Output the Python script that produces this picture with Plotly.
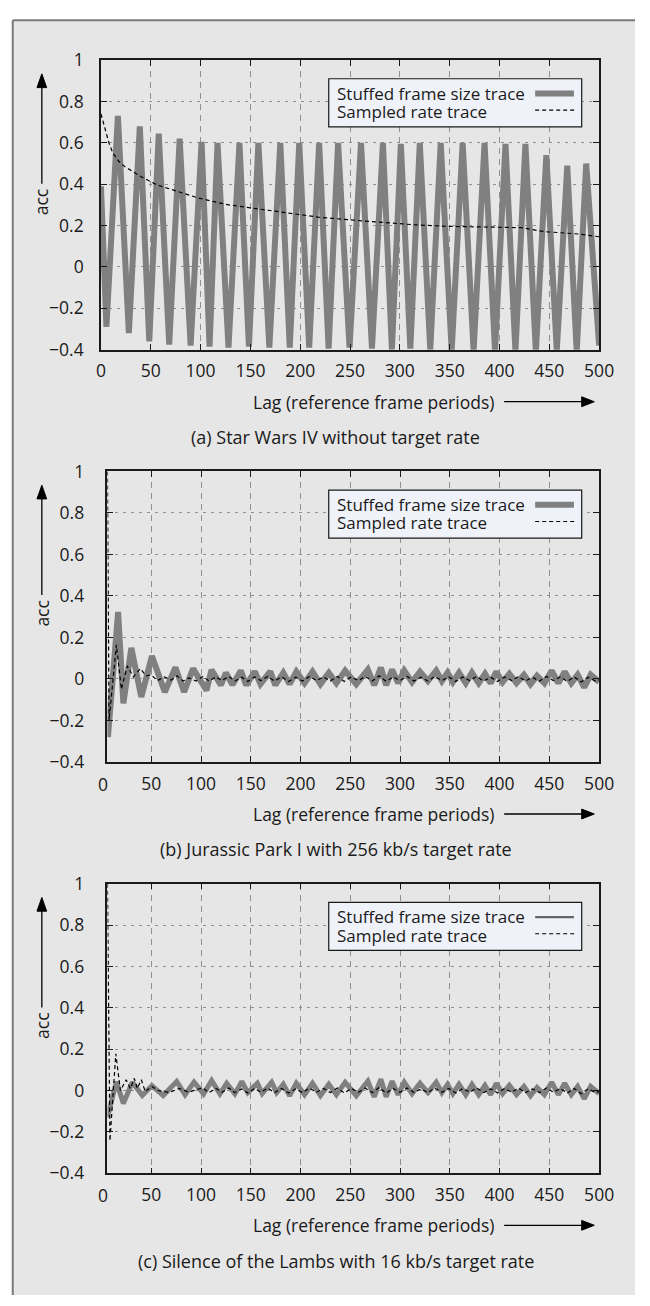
import plotly.graph_objects as go

W, H = 650, 1306


def px(x):
    return x / W


def py(y):
    return 1 - y / H


# ---------------- data ----------------
# (a) Star Wars IV without target rate
lag_a_frame = [0, 5.5, 17, 28, 39, 48.5, 58, 68.5, 79, 90, 101, 109, 117, 128, 139, 148.5, 158, 169, 180, 189.5,
               199, 209, 219, 228.5, 238, 249.5, 261, 272, 283, 292, 301, 310.5, 320, 330.5, 341, 352, 363, 374, 385, 395.5,
               406, 416, 426, 436.5, 447, 457.5, 468, 477.5, 487, 500]
acc_a_frame = [0.39, -0.29, 0.73, -0.32, 0.68, -0.36, 0.645, -0.375, 0.62, -0.38, 0.605, -0.385, 0.6, -0.39, 0.6, -0.385,
               0.6, -0.39, 0.6, -0.39, 0.6, -0.39, 0.6, -0.395, 0.6, -0.39, 0.6, -0.395, 0.6, -0.4, 0.595, -0.395, 0.6, -0.4,
               0.6, -0.405, 0.6, -0.405, 0.6, -0.405, 0.595, -0.41, 0.595, -0.41, 0.54, -0.405, 0.49, -0.41, 0.5, -0.38]
lag_a_rate = [0, 4, 8, 12, 18, 24, 32, 40, 56, 76, 98, 127, 160, 192, 218, 264, 285, 317, 350, 400, 422, 438, 448, 480, 500]
acc_a_rate = [0.74, 0.67, 0.6, 0.55, 0.51, 0.485, 0.46, 0.437, 0.397, 0.365, 0.333, 0.301, 0.278, 0.257, 0.241, 0.222,
              0.214, 0.203, 0.196, 0.194, 0.19, 0.176, 0.17, 0.159, 0.146]

# common tail (lag > 185) of the stuffed traces in (b) and (c)
lag_tail = [189, 195.8, 204, 212, 220, 228.4, 236, 244.8, 256, 267.6, 274, 280.7, 286, 292, 298, 304.2, 312, 320, 328,
            336.3, 342, 347.7, 353, 359.2, 366, 372.2, 379, 385.3, 391, 396.7, 403, 409.8, 417, 424.5, 431, 437.6, 445,
            452.3, 459, 465.4, 472, 478.4, 485, 491.5, 500]
acc_tail = [-0.025, 0.035, -0.02, 0.035, -0.025, 0.03, -0.02, 0.04, -0.025, 0.045, -0.03, 0.055, -0.03, 0.045, -0.02,
            0.04, -0.015, 0.035, -0.01, 0.04, -0.01, 0.03, -0.015, 0.03, -0.02, 0.03, -0.02, 0.025, -0.02, 0.035, -0.015,
            0.025, -0.02, 0.02, -0.025, 0.015, -0.02, 0.04, -0.02, 0.035, -0.02, 0.02, -0.04, 0.02, -0.015]

# (b) Jurassic Park I with 256 kb/s target rate
lag_b_frame = [6.5, 16.7, 22, 30, 40, 50.7, 63.6, 74.3, 83, 92, 105.6, 110.5, 120, 125, 131.6, 140, 145.4, 154, 159.7,
               169.7, 174.6, 182.7] + lag_tail
acc_b_frame = [-0.28, 0.323, -0.118, 0.15, -0.087, 0.11, -0.063, 0.055, -0.063, 0.05, -0.055, 0.044, -0.03, 0.03,
               -0.028, 0.04, -0.03, 0.036, -0.024, 0.036, -0.03, 0.03] + acc_tail

# common tail of the sampled rate traces in (b) and (c)
lag_rate_tail = [102, 108, 115, 121, 128, 134, 141, 147, 154, 160, 167, 174, 181, 188, 195, 202, 209, 216, 223, 230,
                 237, 244, 251, 258, 265, 272, 279, 286, 293, 300, 307, 314, 321, 328, 335, 342, 349, 356, 363, 370,
                 377, 384, 391, 398, 405, 412, 419, 426, 433, 440, 447, 454, 461, 468, 475, 482, 489, 496, 500]
acc_rate_tail = [0.012, -0.01, 0.01, -0.008, 0.012, -0.01, 0.008, -0.012, 0.01, -0.008, 0.012, -0.01, 0.01, -0.012,
                 0.008, -0.01, 0.012, -0.008, 0.01, -0.01, 0.012, -0.012, 0.01, -0.008, 0.012, -0.01, 0.015, -0.012,
                 0.01, -0.008, 0.012, -0.01, 0.008, -0.01, 0.012, -0.008, 0.01, -0.012, 0.01, -0.008, 0.012, -0.01,
                 0.008, -0.012, 0.01, -0.008, 0.012, -0.01, 0.008, -0.01, 0.012, -0.008, 0.01, -0.012, 0.01, -0.015,
                 0.008, -0.01, -0.005]

lag_b_rate = [6, 7.6, 15, 20, 26, 32, 39, 45, 50, 56, 63, 70, 76, 82, 88, 95] + lag_rate_tail
acc_b_rate = [1.0, -0.2, 0.165, -0.05, 0.063, 0.01, 0.05, 0.015, 0.02, -0.008, 0.01, -0.005, 0.015, -0.01, 0.005,
              -0.01] + acc_rate_tail

# (c) Silence of the Lambs with 16 kb/s target rate
lag_c_frame = [6, 15, 22, 31, 41, 50.7, 62, 75.6, 84, 93, 102.6, 110.7, 119, 125.8, 134, 141, 147, 156.6, 161.5, 171,
               176, 182.7] + lag_tail
acc_c_frame = [-0.13, 0.043, -0.063, 0.04, -0.024, 0.024, -0.024, 0.044, -0.02, 0.041, -0.016, 0.048, -0.016, 0.035,
               -0.016, 0.044, -0.01, 0.035, -0.014, 0.04, -0.01, 0.03] + acc_tail
lag_c_rate = [6, 8.5, 14.4, 19, 24.8, 29, 33, 36, 40, 44, 50.7, 57, 68, 78, 88, 95] + lag_rate_tail
acc_c_rate = [1.0, -0.243, 0.178, 0.0, 0.052, 0.01, 0.059, 0.01, 0.052, -0.005, 0.02, 0.0, -0.01, 0.01, -0.008,
              0.005] + acc_rate_tail

x_ticks = [0, 50, 100, 150, 200, 250, 300, 350, 400, 450, 500]
y_ticks = [-0.4, -0.2, 0, 0.2, 0.4, 0.6, 0.8, 1]
y_tick_text = ["\u22120.4", "\u22120.2", "0", "0.2", "0.4", "0.6", "0.8", "1"]

captions = ["(a) Star Wars IV without target rate",
            "(b) Jurassic Park I with 256 kb/s target rate",
            "(c) Silence of the Lambs with 16 kb/s target rate"]
series_names = ["Stuffed frame size trace", "Sampled rate trace"]
x_title = "Lag (reference frame periods)"
y_title = "acc"

# ---------------- layout geometry (pixels) ----------------
FONT = "Open Sans"
FS = 17.5
FS_CAP = 18
FS_LEG = 17
TXT = "#1a1a1a"
panels = [
    dict(top=48, bottom=343, left=99, xmin=0, frame=(lag_a_frame, acc_a_frame), rate=(lag_a_rate, acc_a_rate),
         fw=6, lw_leg=6, lc_leg="#808080"),
    dict(top=467, bottom=763, left=105.7, xmin=6, frame=(lag_b_frame, acc_b_frame), rate=(lag_b_rate, acc_b_rate),
         fw=6, lw_leg=6, lc_leg="#808080"),
    dict(top=887, bottom=1182, left=105.7, xmin=6, frame=(lag_c_frame, acc_c_frame), rate=(lag_c_rate, acc_c_rate),
         fw=5, lw_leg=2.2, lc_leg="#666666"),
]
RIGHT = 613

fig = go.Figure()
shapes = []
annotations = []

# outer frame background with top and left rules
shapes.append(dict(type="rect", xref="paper", yref="paper", x0=px(8), x1=1, y0=0, y1=py(7.5),
                   fillcolor="#e6e6e6", line=dict(width=0), layer="below"))
shapes.append(dict(type="line", xref="paper", yref="paper", x0=px(8), x1=1, y0=py(7.5), y1=py(7.5),
                   line=dict(color="#7a7a7a", width=2)))
shapes.append(dict(type="line", xref="paper", yref="paper", x0=px(8), x1=px(8), y0=0, y1=py(7.5),
                   line=dict(color="#7a7a7a", width=2)))

for i, p in enumerate(panels):
    n = "" if i == 0 else str(i + 1)
    xa = "x" + n
    ya = "y" + n
    fig.add_trace(go.Scatter(x=p["frame"][0], y=p["frame"][1], mode="lines", name=series_names[0],
                             line=dict(color="#808080", width=p["fw"]), xaxis=xa, yaxis=ya, showlegend=False))
    fig.add_trace(go.Scatter(x=p["rate"][0], y=p["rate"][1], mode="lines", name=series_names[1],
                             line=dict(color="#000000", width=1.2, dash="4px,3px"), xaxis=xa, yaxis=ya,
                             showlegend=False))
    common = dict(showline=True, linecolor="#1a1a1a", linewidth=1.5, mirror="allticks", ticks="inside",
                  ticklen=6, tickwidth=1.2, tickcolor="#1a1a1a", showgrid=True, gridcolor="#8f8f8f",
                  gridwidth=1, zeroline=False, tickfont=dict(family=FONT, size=FS, color=TXT))
    xt = [t for t in x_ticks if t >= p["xmin"]]
    fig.update_layout(**{
        "xaxis" + n: dict(common, domain=[px(p["left"]), px(RIGHT)], range=[p["xmin"], 500], anchor=ya,
                          tickvals=xt, ticktext=[str(t) for t in xt], griddash="6px,5px",
                          ticklabelstandoff=5),
        "yaxis" + n: dict(common, domain=[py(p["bottom"]), py(p["top"])], range=[-0.4, 1], anchor=xa,
                          tickvals=y_ticks, ticktext=y_tick_text, griddash="3px,5px",
                          ticklabelstandoff=int(p["left"] - 99 + 12)),
    })
    if p["xmin"] > 0:
        annotations.append(dict(xref="paper", yref="paper", x=px(101), y=py(p["bottom"] + 22), text="0",
                                showarrow=False, xanchor="center", yanchor="middle",
                                font=dict(family=FONT, size=FS, color=TXT)))
    off = p["top"] - 48
    # legend box
    shapes.append(dict(type="rect", xref="paper", yref="paper", x0=px(334), x1=px(595), y0=py(off + 116),
                       y1=py(off + 67), fillcolor="#f0f2f9", line=dict(color="#1a1a1a", width=1.2)))
    annotations.append(dict(xref="paper", yref="paper", x=px(340), y=py(off + 81.5), text=series_names[0],
                            showarrow=False, xanchor="left", yanchor="middle",
                            font=dict(family=FONT, size=FS_LEG, color=TXT)))
    annotations.append(dict(xref="paper", yref="paper", x=px(340), y=py(off + 100.5), text=series_names[1],
                            showarrow=False, xanchor="left", yanchor="middle",
                            font=dict(family=FONT, size=FS_LEG, color=TXT)))
    shapes.append(dict(type="line", xref="paper", yref="paper", x0=px(547), x1=px(587), y0=py(off + 82),
                       y1=py(off + 82), line=dict(color=p["lc_leg"], width=p["lw_leg"])))
    shapes.append(dict(type="line", xref="paper", yref="paper", x0=px(547), x1=px(590), y0=py(off + 99),
                       y1=py(off + 99), line=dict(color="#000000", width=1.2, dash="4px,3px")))
    # y title with arrow
    annotations.append(dict(xref="paper", yref="paper", x=px(38), y=py(off + 192), text=y_title, textangle=-90,
                            showarrow=False, xanchor="center", yanchor="middle",
                            font=dict(family=FONT, size=FS, color=TXT)))
    shapes.append(dict(type="line", xref="paper", yref="paper", x0=px(38), x1=px(38), y0=py(off + 174),
                       y1=py(off + 72), line=dict(color="#000000", width=1.3)))
    shapes.append(dict(type="path", xref="paper", yref="paper",
                       path="M {} {} L {} {} L {} {} Z".format(px(38), py(off + 62), px(33), py(off + 76),
                                                              px(43), py(off + 76)),
                       fillcolor="#000000", line=dict(color="#000000", width=1)))
    # x title with arrow
    yb = p["bottom"] + 53
    annotations.append(dict(xref="paper", yref="paper", x=px(507), y=py(yb), text=x_title,
                            showarrow=False, xanchor="right", yanchor="middle",
                            font=dict(family=FONT, size=FS, color=TXT)))
    shapes.append(dict(type="line", xref="paper", yref="paper", x0=px(515), x1=px(598), y0=py(yb), y1=py(yb),
                       line=dict(color="#000000", width=1.3)))
    shapes.append(dict(type="path", xref="paper", yref="paper",
                       path="M {} {} L {} {} L {} {} Z".format(px(608), py(yb), px(595), py(yb - 5),
                                                              px(595), py(yb + 5)),
                       fillcolor="#000000", line=dict(color="#000000", width=1)))
    # caption
    annotations.append(dict(xref="paper", yref="paper", x=px(341), y=py(p["bottom"] + 89), text=captions[i],
                            showarrow=False, xanchor="center", yanchor="middle",
                            font=dict(family=FONT, size=FS_CAP, color=TXT)))

fig.update_layout(width=W, height=H, margin=dict(l=0, r=0, t=0, b=0), paper_bgcolor="#ffffff",
                  plot_bgcolor="#e8ecf6", showlegend=False, shapes=shapes, annotations=annotations)

fig.write_html("out.html")
